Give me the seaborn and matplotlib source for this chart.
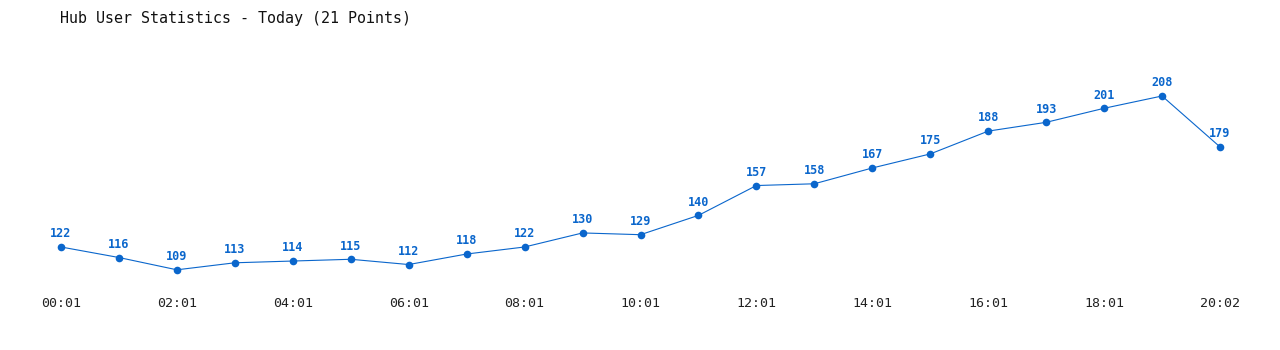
import matplotlib
matplotlib.use("Agg")
import matplotlib.pyplot as plt
import seaborn as sns
import pandas as pd

times = ["00:01", "01:01", "02:01", "03:01", "04:01", "05:01", "06:01", "07:01",
         "08:01", "09:01", "10:01", "11:01", "12:01", "13:01", "14:01", "15:01",
         "16:01", "17:01", "18:01", "19:01", "20:02"]
users = [122, 116, 109, 113, 114, 115, 112, 118, 122, 130, 129, 140,
         157, 158, 167, 175, 188, 193, 201, 208, 179]
title = "Hub User Statistics - Today (21 Points)"

sns.set_theme(style="white")
plt.rcParams['font.family'] = ['DejaVu Sans Mono', 'DejaVu Sans']

color = "#0a66cc"
df = pd.DataFrame({"idx": range(len(users)), "users": users})

fig = plt.figure(figsize=(12.8, 3.5), dpi=100)
ax = fig.add_axes([61/1280, 1 - 290/350, 1159/1280, 230/350])
sns.lineplot(data=df, x="idx", y="users", ax=ax, color=color, linewidth=0.8,
             marker="o", markersize=5.5, markeredgewidth=0, clip_on=False)
ax.set_xlim(0, len(users) - 1)
ax.set_ylim(97.5, 228.5)

for i, v in enumerate(users):
    ax.annotate(str(v), (i, v), xytext=(0, 9.5), textcoords="offset points",
                ha="center", va="center", fontsize=8.5, fontweight="bold",
                color=color)

ax.set_xticks(list(range(0, len(users), 2)))
ax.set_xticklabels(times[::2], fontsize=9.5, color="#222222")
ax.tick_params(axis="x", length=0, pad=5)
ax.set_yticks([])
ax.set_xlabel("")
ax.set_ylabel("")
for s in ax.spines.values():
    s.set_visible(False)

fig.text(60/1280, 1 - 18/350, title, ha="left", va="center", fontsize=10.8,
         color="#111111")

fig.savefig("out.png", dpi=100, facecolor="white")
